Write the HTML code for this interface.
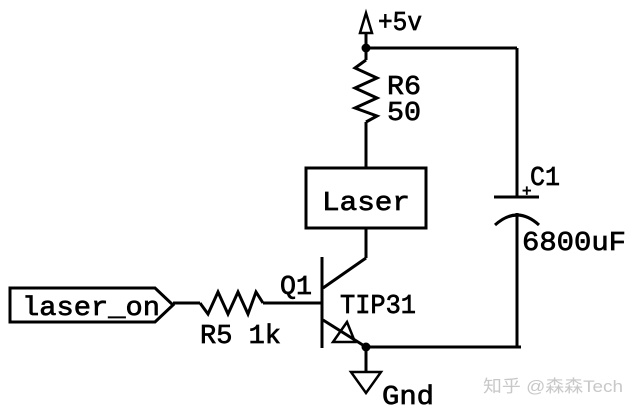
<!DOCTYPE html>
<html><head><meta charset="utf-8"><style>
html,body{margin:0;padding:0;background:#fff;}
svg{display:block;}
text{font-family:"Liberation Mono",monospace;fill:#000;}
.t{stroke:#000;stroke-width:0.7;}
</style></head><body>
<svg width="636" height="414" viewBox="0 0 636 414" xmlns="http://www.w3.org/2000/svg">
<g stroke="#000" stroke-width="3" fill="none" stroke-linejoin="miter">
<polygon points="366,13 360,33 372,33" stroke-width="2.5"/>
<line x1="366" y1="33" x2="366" y2="60"/>
<line x1="366" y1="48" x2="517" y2="48"/>
<polyline points="366,60 355,68 377,78 355,88 377,98 355,108 377,116 366,122"/>
<line x1="366" y1="122" x2="366" y2="168"/>
<rect x="306" y="168" width="120" height="60"/>
<line x1="366" y1="228" x2="366" y2="258"/>
<line x1="366" y1="258" x2="323" y2="288"/>
<line x1="322" y1="257" x2="322" y2="348"/>
<line x1="323" y1="320" x2="366" y2="347"/>
<polygon points="347,322 333,342 355,342" stroke-width="2.5"/>
<line x1="173" y1="303" x2="200" y2="303"/>
<polyline points="200,303 208,314 218,292 228,314 238,292 248,314 256,292 263,303"/>
<line x1="263" y1="303" x2="322" y2="303"/>
<polygon points="10,288 155,288 173,305 155,322 10,322"/>
<line x1="366" y1="347" x2="521" y2="347"/>
<line x1="366" y1="347" x2="366" y2="372"/>
<polygon points="351,372 381,372 366,393" stroke-width="2.5"/>
<line x1="517" y1="48" x2="517" y2="197"/>
<line x1="494" y1="197" x2="539" y2="197"/>
<path d="M495,225 Q517,205 539,225"/>
<line x1="517" y1="213" x2="517" y2="347"/>
</g>
<circle cx="366" cy="48" r="4.5" fill="#000"/>
<circle cx="366" cy="347" r="4.5" fill="#000"/>
<g font-size="27" class="t">
<text x="378" y="30" textLength="44" lengthAdjust="spacingAndGlyphs">+5v</text>
<text x="387" y="94" textLength="34" lengthAdjust="spacingAndGlyphs">R6</text>
<text x="387" y="120" textLength="34" lengthAdjust="spacingAndGlyphs">50</text>
<text x="322" y="210" textLength="88" lengthAdjust="spacingAndGlyphs">Laser</text>
<text x="530" y="185" textLength="30" lengthAdjust="spacingAndGlyphs">C1</text>
<text x="522" y="250" textLength="104" lengthAdjust="spacingAndGlyphs">6800uF</text>
<text x="280" y="294" textLength="32" lengthAdjust="spacingAndGlyphs">Q1</text>
<text x="340" y="313" textLength="76" lengthAdjust="spacingAndGlyphs">TIP31</text>
<text x="22" y="315" textLength="138" lengthAdjust="spacingAndGlyphs">laser_on</text>
<text x="200" y="343" textLength="81" lengthAdjust="spacingAndGlyphs">R5 1k</text>
<text x="382" y="404" textLength="52" lengthAdjust="spacingAndGlyphs">Gnd</text>
</g>
<text x="522" y="196" font-size="16" class="t">+</text>
<text x="483" y="392" font-size="17" style="font-family:'Liberation Sans','Noto Sans CJK SC',sans-serif;fill:#c8c8c8" textLength="140" lengthAdjust="spacingAndGlyphs">知乎 @森森Tech</text>
</svg>
</body></html>
